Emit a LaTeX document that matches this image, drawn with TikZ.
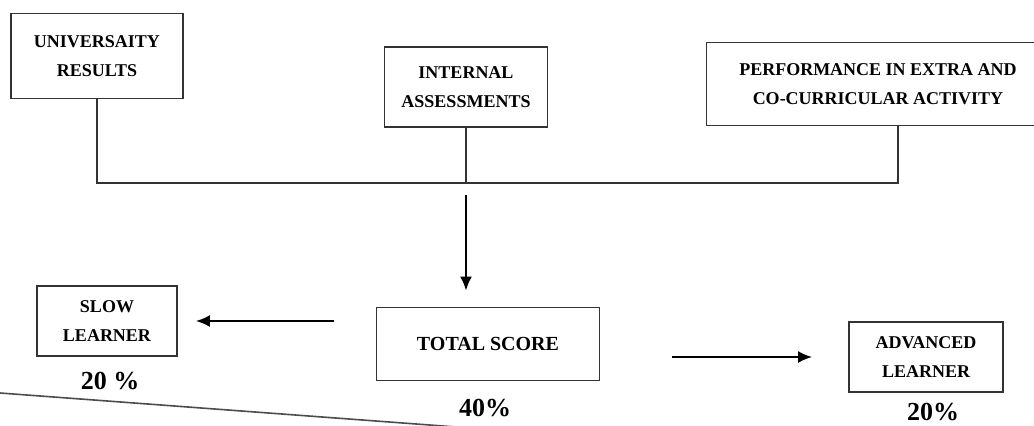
\documentclass[tikz,border=0pt]{standalone}
\usepackage{fontspec}
\setmainfont{Liberation Serif}
\usetikzlibrary{arrows.meta,positioning}

\begin{document}
\begin{tikzpicture}[x=0.5pt,y=-0.5pt,
        box/.style = {draw=black!80, line width=0.9pt, align=center, inner sep=0pt,
                      font=\bfseries\fontsize{9}{14.5}\selectfont},
        pct/.style = {font=\bfseries\fontsize{13}{16}\selectfont},
        link/.style = {draw=black!80, line width=0.9pt},
        arr/.style = {line width=1pt, -{Latex[length=7pt,width=6pt]}},
        ]
        \useasboundingbox (0,0) rectangle (1034,425);
        % top row
        \node[box, minimum width=86pt, minimum height=42.5pt](ur) at (97,56) {UNIVERSAITY\\RESULTS};
        \node[box, minimum width=81.5pt, minimum height=40pt](ia) at (466,87) {INTERNAL\\ASSESSMENTS};
        \node[box, minimum width=171.5pt, minimum height=41.5pt](perf) at (878,84) {PERFORMANCE IN EXTRA AND\\CO-CURRICULAR ACTIVITY};
        % bottom row
        \node[box, minimum width=70pt, minimum height=35pt](slow) at (107,321) {SLOW\\LEARNER};
        \node[box, minimum width=111.5pt, minimum height=36.5pt, font=\bfseries\fontsize{10}{13}\selectfont](total) at (488,344) {TOTAL SCORE};
        \node[box, minimum width=77pt, minimum height=35pt](adv) at (926,357) {ADVANCED\\LEARNER};
        \node[pct](ps) at (110,381) {20 \%};
        \node[pct](pt) at (485,408) {40\%};
        \node[pct](pa) at (933,412) {20\%};
        % joining line
        \coordinate (jl) at (97,183);
        \coordinate (jr) at (898,183);
        \draw[link] (ur.south) -- (jl) -- (jr) -- (jr |- perf.south);
        \draw[link] (ia.south) -- (ia.south |- jl);
        \draw[arr, shorten <=6pt, shorten >=8pt] (ia.south |- jl) -- (ia.south |- total.north);
        \draw[arr, shorten <=21pt, shorten >=9pt] (total.west |- slow.east) -- (slow.east);
        \draw[arr, shorten <=36pt, shorten >=18pt] (total.east |- adv.west) -- (adv.west);
        % page rule
        \draw[black!70, line width=0.8pt] (0,393) -- (470,428);
\end{tikzpicture}
\end{document}
